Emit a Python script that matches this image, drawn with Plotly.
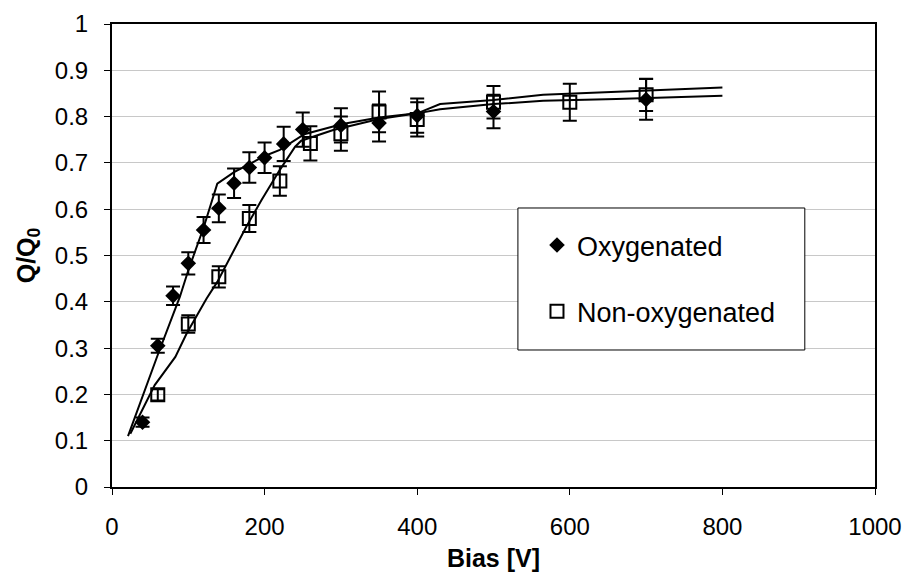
import plotly.graph_objects as go

# Measured charge ratio Q/Q0 versus bias voltage
oxy_bias = [40, 60, 80, 100, 120, 140, 160, 180, 200, 225, 250, 300, 350, 400, 500, 700]
oxy_q = [0.14, 0.305, 0.413, 0.483, 0.555, 0.602, 0.656, 0.69, 0.711, 0.741, 0.772,
         0.781, 0.786, 0.802, 0.811, 0.837]
oxy_err = [0.01, 0.015, 0.02, 0.024, 0.028, 0.03, 0.032, 0.033, 0.033, 0.037, 0.037,
           0.037, 0.04, 0.037, 0.036, 0.044]

non_bias = [60, 100, 140, 180, 220, 260, 300, 350, 400, 500, 600, 700]
non_q = [0.199, 0.352, 0.454, 0.58, 0.661, 0.742, 0.763, 0.81, 0.794, 0.831, 0.831, 0.847]
non_err = [0.012, 0.019, 0.023, 0.029, 0.032, 0.037, 0.037, 0.044, 0.037, 0.035, 0.04, 0.035]

# Model curves
oxy_fit_bias = [21, 61, 89, 100, 120, 138, 160, 200, 220, 252, 302, 350, 400, 430, 500,
                565, 661, 800]
oxy_fit_q = [0.11, 0.29, 0.411, 0.468, 0.56, 0.655, 0.68, 0.715, 0.728, 0.762, 0.784,
             0.798, 0.807, 0.816, 0.827, 0.834, 0.838, 0.845]
non_fit_bias = [24, 56, 83, 98, 124, 138, 176, 196, 220, 240, 248, 290, 350, 400, 430,
                500, 565, 661, 800]
non_fit_q = [0.115, 0.22, 0.281, 0.332, 0.407, 0.443, 0.562, 0.62, 0.685, 0.735, 0.748,
             0.771, 0.795, 0.807, 0.827, 0.836, 0.847, 0.854, 0.863]

x_ticks = [0, 200, 400, 600, 800, 1000]
y_ticks = [0, 0.1, 0.2, 0.3, 0.4, 0.5, 0.6, 0.7, 0.8, 0.9, 1]
y_tick_text = ["0", "0.1", "0.2", "0.3", "0.4", "0.5", "0.6", "0.7", "0.8", "0.9", "1"]

FONT = "Arial, 'Liberation Sans', sans-serif"

fig = go.Figure()

fig.add_trace(go.Scatter(x=oxy_fit_bias, y=oxy_fit_q, mode="lines",
                         line=dict(color="black", width=2), showlegend=False,
                         hoverinfo="skip"))
fig.add_trace(go.Scatter(x=non_fit_bias, y=non_fit_q, mode="lines",
                         line=dict(color="black", width=2), showlegend=False,
                         hoverinfo="skip"))

fig.add_trace(go.Scatter(
    x=oxy_bias, y=oxy_q, mode="markers", name="Oxygenated", legendgroup="a",
    marker=dict(symbol="diamond", size=12, color="black"),
    error_y=dict(type="data", array=oxy_err, visible=True, color="black",
                 thickness=2, width=7),
))
fig.add_trace(go.Scatter(
    x=non_bias, y=non_q, mode="markers", name="Non-oxygenated", legendgroup="b",
    marker=dict(symbol="square-open", size=13, color="black", line=dict(width=2)),
    error_y=dict(type="data", array=non_err, visible=True, color="black",
                 thickness=2, width=7),
))

# Legend frame (white panel with thin black border)
fig.add_shape(type="rect", xref="paper", yref="paper",
              x0=0.532, x1=0.908, y0=0.2959, y1=0.6026,
              fillcolor="white", line=dict(color="black", width=1), layer="above")

fig.update_layout(
    width=912, height=586,
    margin=dict(l=112, r=37, t=24, b=99),
    paper_bgcolor="white", plot_bgcolor="white",
    font=dict(family=FONT, size=24, color="black"),
    legend=dict(
        x=0.557, y=0.5745, xanchor="left", yanchor="top",
        borderwidth=0, bgcolor="rgba(0,0,0,0)",
        font=dict(size=27), traceorder="grouped", tracegroupgap=28,
        itemwidth=30,
    ),
    xaxis=dict(
        range=[0, 1000], tickvals=x_ticks, showgrid=False, zeroline=False,
        showline=True, linecolor="black", linewidth=2, mirror=True,
        ticks="outside", ticklen=6, tickwidth=1, tickcolor="black",
        ticklabelstandoff=11, automargin=False,
        title=dict(text="<b>Bias [V]</b>", font=dict(size=25), standoff=11),
    ),
    yaxis=dict(
        range=[0, 1], tickvals=y_ticks, ticktext=y_tick_text,
        showgrid=True, gridcolor="#c8c8c8", gridwidth=1, zeroline=False,
        showline=True, linecolor="black", linewidth=2, mirror=True,
        ticks="outside", ticklen=6, tickwidth=1, tickcolor="black",
        ticklabelstandoff=11, automargin=False,
        title=dict(text="<b>Q/Q<sub>0</sub></b>", font=dict(size=25), standoff=12),
    ),
)

fig.write_html("out.html")
